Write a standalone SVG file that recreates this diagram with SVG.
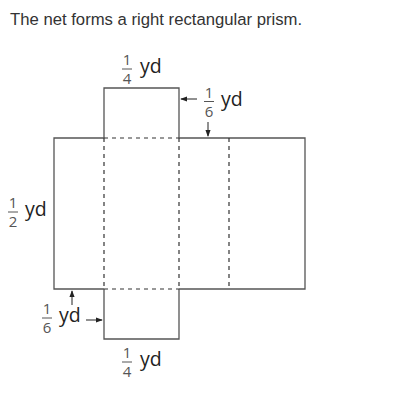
<svg xmlns="http://www.w3.org/2000/svg" width="404" height="420" viewBox="0 0 404 420">
<defs>
<marker id="ah" viewBox="0 0 8 8" refX="7" refY="4" markerWidth="7" markerHeight="7" markerUnits="userSpaceOnUse" orient="auto"><path d="M0,1 L8,4 L0,7 Z" fill="#222"/></marker>
<style>
.t{font-family:"Liberation Sans",Arial,sans-serif;fill:#333}
.f{font-family:"Open Sans","DejaVu Sans",sans-serif;font-size:15px;fill:#555;text-anchor:middle}
.yd{font-family:"Open Sans","DejaVu Sans",sans-serif;font-size:19.5px;fill:#222}
.s{fill:none;stroke:#555;stroke-width:1.3}
.d{fill:none;stroke:#333;stroke-width:1.2;stroke-dasharray:4,4}
.a{stroke:#222;stroke-width:1;marker-end:url(#ah)}
.fl{stroke:#555;stroke-width:1}
</style>
</defs>
<rect width="404" height="420" fill="#fff"/>
<text class="t" x="10" y="25" font-size="16.7">The net forms a right rectangular prism.</text>
<g id="net">
<path class="s" d="M104,138 V88 H179 V138"/>
<path class="s" d="M104,138 H54 V289 H104"/>
<path class="s" d="M179,138 H305 V289 H179"/>
<path class="s" d="M104,289 V339 H179 V289"/>
<path class="d" d="M104,138 H179 M104,289 H179 M104,138 V289 M179,138 V289 M229,138 V289"/>
</g>
<g id="connectors">
<line class="a" x1="197" y1="99" x2="181" y2="99"/>
<line class="a" x1="208" y1="122" x2="208" y2="136"/>
<line class="a" x1="72" y1="305" x2="72" y2="291"/>
<line class="a" x1="86" y1="320" x2="102" y2="320"/>
</g>
<g id="label-top">
<text class="f" x="127" y="65">1</text><line class="fl" x1="122" y1="69" x2="132" y2="69"/><text class="f" x="127" y="84">4</text>
<text class="yd" x="140" y="73">yd</text>
</g>
<g id="label-right">
<text class="f" x="209" y="97.5">1</text><line class="fl" x1="204" y1="101.5" x2="214" y2="101.5"/><text class="f" x="209" y="116.5">6</text>
<text class="yd" x="221" y="105.5">yd</text>
</g>
<g id="label-left">
<text class="f" x="13" y="208">1</text><line class="fl" x1="8" y1="212" x2="18" y2="212"/><text class="f" x="13" y="227">2</text>
<text class="yd" x="25" y="216">yd</text>
</g>
<g id="label-bottom-left">
<text class="f" x="47" y="314">1</text><line class="fl" x1="42" y1="318" x2="52" y2="318"/><text class="f" x="47" y="333">6</text>
<text class="yd" x="59" y="322">yd</text>
</g>
<g id="label-bottom">
<text class="f" x="127" y="358">1</text><line class="fl" x1="122" y1="362" x2="132" y2="362"/><text class="f" x="127" y="377">4</text>
<text class="yd" x="140" y="366">yd</text>
</g>
</svg>
